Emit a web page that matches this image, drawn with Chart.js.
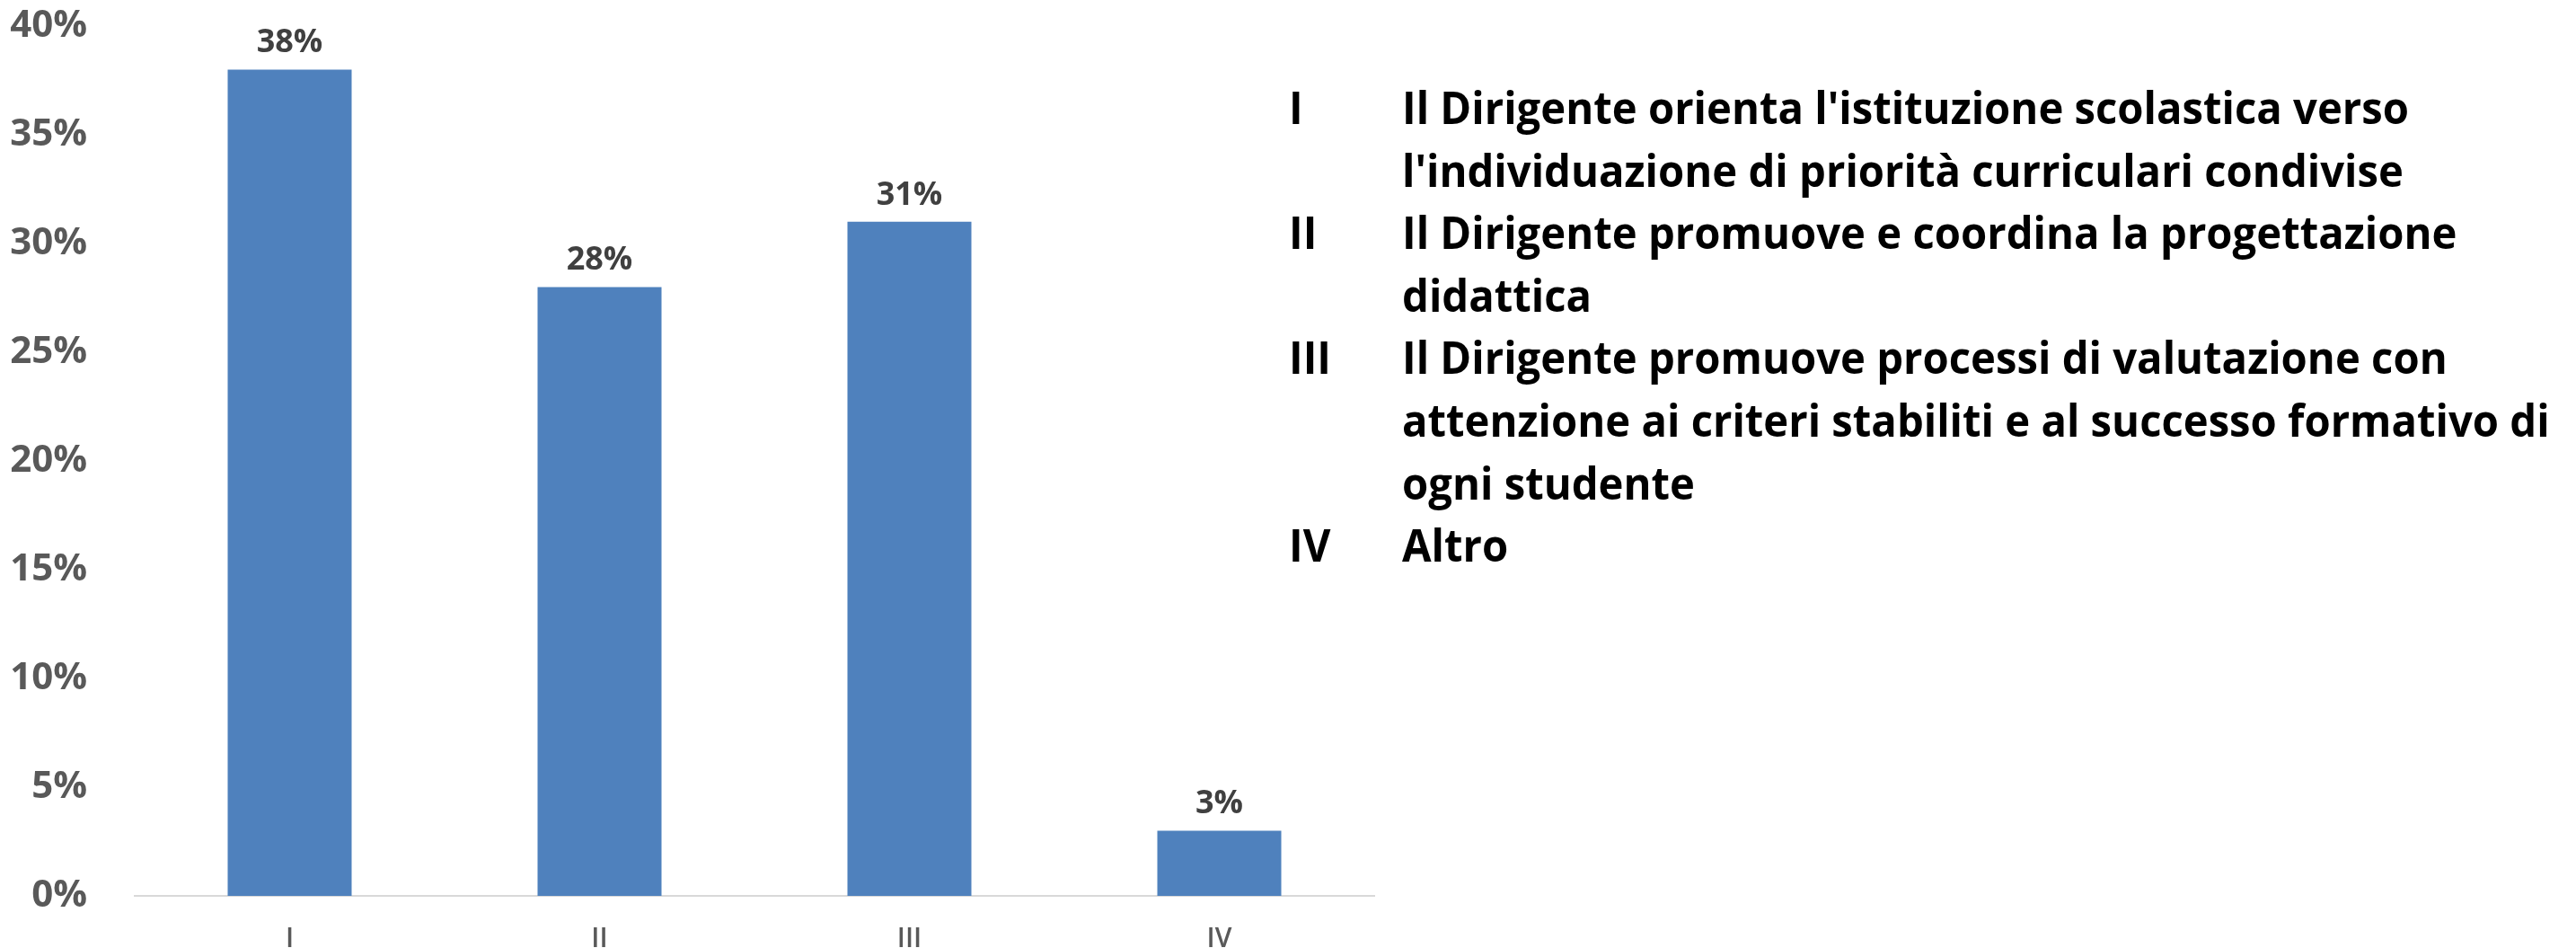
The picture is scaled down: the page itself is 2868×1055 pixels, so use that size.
<!DOCTYPE html>
<html>
<head>
<meta charset="utf-8">
<script src="https://cdn.jsdelivr.net/npm/chart.js@4.4.1/dist/chart.umd.min.js"></script>
<style>
    html, body { margin: 0; padding: 0; background: #ffffff; }
    #wrap { position: relative; width: 2868px; height: 1055px; }
</style>
</head>
<body>
<div id="wrap"><canvas id="barChart"></canvas></div>
<script>
const categories = ['I', 'II', 'III', 'IV'];
const percentages = [38, 28, 31, 3];
const yTicks = [0, 5, 10, 15, 20, 25, 30, 35, 40];
const descriptions = [
    ["Il Dirigente orienta l'istituzione scolastica verso", "l'individuazione di priorità curriculari condivise"],
    ["Il Dirigente promuove e coordina la progettazione", "didattica"],
    ["Il Dirigente promuove processi di valutazione con", "attenzione ai criteri stabiliti e al successo formativo di", "ogni studente"],
    ["Altro"]
];

// percent labels above each bar
const valueLabels = {
    id: 'valueLabels',
    afterDatasetsDraw(chart) {
        const ctx = chart.ctx;
        const meta = chart.getDatasetMeta(0);
        ctx.save();
        ctx.font = 'bold 36px "Open Sans"';
        ctx.fillStyle = '#404040';
        ctx.textAlign = 'center';
        ctx.textBaseline = 'alphabetic';
        meta.data.forEach(function(bar, i) {
            ctx.fillText(percentages[i] + '%', bar.x, bar.y - 19);
        });
        ctx.restore();
    }
};

// key on the right side: numeral + description lines
const sideKey = {
    id: 'sideKey',
    afterDraw(chart) {
        const ctx = chart.ctx;
        ctx.save();
        ctx.font = 'bold 50px "Open Sans"';
        ctx.fillStyle = '#000000';
        ctx.textBaseline = 'alphabetic';
        // squeeze the text so it runs as narrow as the original
        const sx = 1121 / ctx.measureText(descriptions[0][0]).width;
        let y = 138;
        descriptions.forEach(function(lines, i) {
            lines.forEach(function(line, j) {
                ctx.save();
                ctx.translate(0, y);
                ctx.scale(sx, 1);
                if (j === 0) ctx.fillText(categories[i], 1435 / sx, 0);
                ctx.fillText(line, 1561 / sx, 0);
                ctx.restore();
                y += 69.6;
            });
        });
        ctx.restore();
    }
};

new Chart(document.getElementById('barChart'), {
    type: 'bar',
    data: {
        labels: categories,
        datasets: [{
            data: percentages,
            backgroundColor: '#4f81bd',
            borderWidth: 0,
            categoryPercentage: 1,
            barPercentage: 0.4
        }]
    },
    options: {
        responsive: true,
        maintainAspectRatio: false,
        animation: false,
        layout: { padding: { top: 29, right: 1338, bottom: 0, left: 0 } },
        plugins: {
            legend: { display: false },
            tooltip: { enabled: false }
        },
        scales: {
            x: {
                grid: { display: true, drawOnChartArea: false, drawTicks: false },
                border: { display: true, color: '#d9d9d9', width: 2 },
                ticks: {
                    color: '#595959',
                    font: { family: 'Open Sans', size: 30, weight: '600' },
                    padding: 30
                },
                afterFit(scale) { scale.height = 58; }
            },
            y: {
                min: 0,
                max: 40,
                grid: { display: false },
                border: { display: false },
                afterBuildTicks(scale) {
                    scale.ticks = yTicks.map(function(v) { return { value: v }; });
                },
                ticks: {
                    color: '#595959',
                    font: { family: 'Open Sans', size: 42, weight: 'bold' },
                    padding: 45,
                    callback: function(v) { return v + '%'; }
                },
                afterFit(scale) {
                    scale.width = 150;
                    // the label gap should not push the plot area in
                    scale.paddingTop = 0;
                    scale.paddingBottom = 0;
                }
            }
        }
    },
    plugins: [valueLabels, sideKey]
});
</script>
</body>
</html>
